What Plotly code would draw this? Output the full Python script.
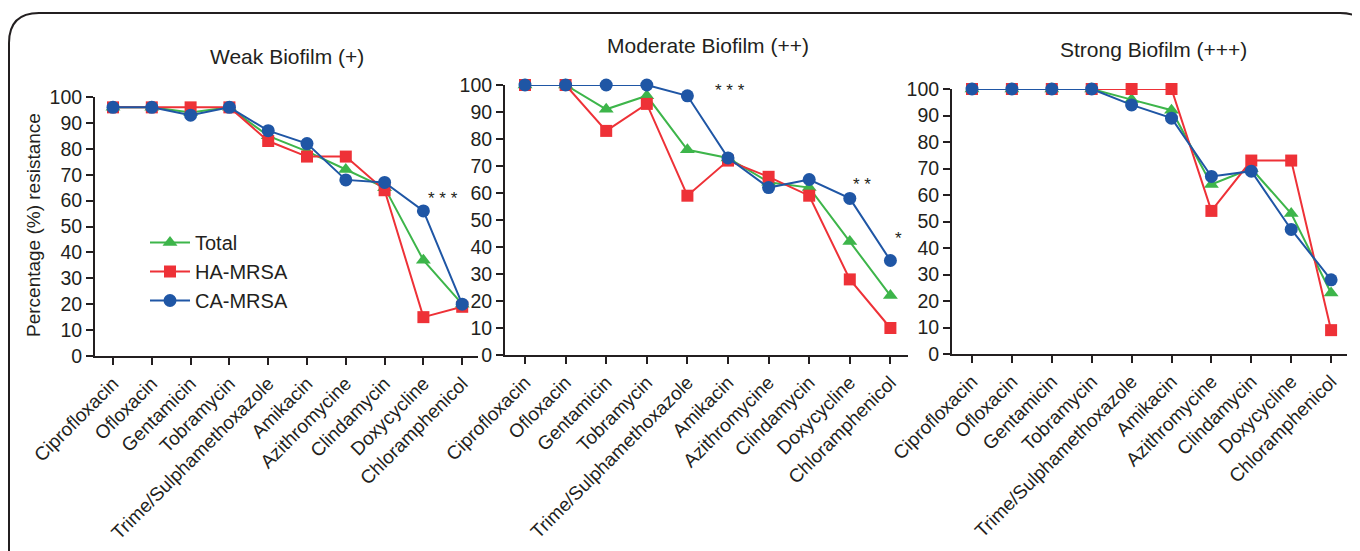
import plotly.graph_objects as go

# page body has an 8px margin; the figure fills the rest of the 1360x551 window
OX, OY = 8, 8
W, H = 1360 - OX, 551 - OY

drugs = ["Ciprofloxacin", "Ofloxacin", "Gentamicin", "Tobramycin", "Trime/Sulphamethoxazole",
         "Amikacin", "Azithromycine", "Clindamycin", "Doxycycline", "Chloramphenicol"]

weak_total = [96, 96, 94, 96, 85, 79, 72, 65, 37, 20]
weak_ha = [96, 96, 96, 96, 83, 77, 77, 64, 15, 19]
weak_ca = [96, 96, 93, 96, 87, 82, 68, 67, 56, 20]

mod_total = [100, 100, 91, 96, 76, 73, 64, 62, 42, 22]
mod_ha = [100, 100, 83, 93, 59, 72, 66, 59, 28, 10]
mod_ca = [100, 100, 100, 100, 96, 73, 62, 65, 58, 35]

strong_total = [100, 100, 100, 100, 96, 92, 64, 70, 53, 23]
strong_ha = [100, 100, 100, 100, 100, 100, 54, 73, 73, 9]
strong_ca = [100, 100, 100, 100, 94, 89, 67, 69, 47, 28]

panel_titles = ["Weak Biofilm (+)", "Moderate Biofilm (++)", "Strong Biofilm (+++)"]
series_names = ["Total", "HA-MRSA", "CA-MRSA"]
y_ticks = list(range(0, 101, 10))

# significance marks: (panel, x position in category units, y value, text)
sig_marks = [(0, 8.5, 61, "* * *"),
             (1, 1.75, 105, "*"), (1, 5.05, 98, "* * *"),
             (1, 8.3, 63, "* *"), (1, 9.2, 43, "*")]

GREEN, RED, BLUE = "#3DB54A", "#EE3137", "#1F56A5"
FONT = "Arial, Liberation Sans, sans-serif"
INK = "#231F20"

panels = [(weak_total, weak_ha, weak_ca), (mod_total, mod_ha, mod_ca), (strong_total, strong_ha, strong_ca)]

# pixel layout (window coords) of each panel: x0, x1, y_top, y_bottom, first category px, category spacing
px = [(95, 478, 97, 356, 113, 38.8),
      (505, 908, 85, 355, 525, 40.6),
      (952, 1347, 89, 354, 972, 39.9)]


def fx(v):
    return (v - OX) / W


def fy(v):
    return 1 - (v - OY) / H


fig = go.Figure()
styles = [(GREEN, "triangle-up", 13), (RED, "square", 12), (BLUE, "circle", 13)]
for p, data in enumerate(panels):
    xa = "x" if p == 0 else f"x{p+1}"
    ya = "y" if p == 0 else f"y{p+1}"
    for s, (vals, name) in enumerate(zip(data, series_names)):
        col, sym, sz = styles[s]
        fig.add_trace(go.Scatter(
            x=list(range(len(drugs))), y=vals, mode="lines+markers", name=name,
            line=dict(color=col, width=2), marker=dict(color=col, symbol=sym, size=sz),
            xaxis=xa, yaxis=ya, showlegend=(p == 0), cliponaxis=False))

layout = dict(width=W, height=H, margin=dict(l=0, r=0, t=0, b=0, autoexpand=False),
              paper_bgcolor="white", plot_bgcolor="white",
              font=dict(family=FONT, color=INK),
              legend=dict(x=fx(145), y=fy(223), xanchor="left", yanchor="top", itemwidth=40,
                          font=dict(size=20, family=FONT, color=INK),
                          bgcolor="rgba(0,0,0,0)", tracegroupgap=0))

for p, (x0, x1, yt, yb, c0, sp) in enumerate(px):
    kx = "xaxis" if p == 0 else f"xaxis{p+1}"
    ky = "yaxis" if p == 0 else f"yaxis{p+1}"
    ya = "y" if p == 0 else f"y{p+1}"
    xa = "x" if p == 0 else f"x{p+1}"
    layout[kx] = dict(domain=[fx(x0), fx(x1)], anchor=ya, automargin=False,
                      range=[(x0 - c0) / sp, (x1 - c0) / sp],
                      tickmode="array", tickvals=list(range(len(drugs))), ticktext=drugs,
                      tickangle=-45, ticks="outside", ticklen=7, tickwidth=2, tickcolor=INK,
                      showline=True, linecolor=INK, linewidth=2, showgrid=False, zeroline=False,
                      tickfont=dict(size=19, family=FONT, color=INK))
    layout[ky] = dict(domain=[fy(yb), fy(yt)], anchor=xa, range=[0, 100], automargin=False,
                      tickmode="array", tickvals=y_ticks,
                      ticks="outside", ticklen=7, tickwidth=2, tickcolor=INK,
                      showline=True, linecolor=INK, linewidth=2, showgrid=False, zeroline=False,
                      tickfont=dict(size=19.5, family=FONT, color=INK))

fig.update_layout(**layout)

title_pos = [(287, 57), (708, 45), (1153, 49)]
for t, (cx, cy) in zip(panel_titles, title_pos):
    fig.add_annotation(text=t, x=fx(cx), y=fy(cy), xref="paper", yref="paper",
                       xanchor="center", yanchor="middle",
                       showarrow=False, font=dict(size=21, family=FONT, color=INK))

fig.add_annotation(text="Percentage (%) resistance", x=fx(33), y=fy(225), xref="paper", yref="paper",
                   xanchor="center", yanchor="middle",
                   textangle=-90, showarrow=False, font=dict(size=19, family=FONT, color=INK))

for p, xv, yv, t in sig_marks:
    xa = "x" if p == 0 else f"x{p+1}"
    ya = "y" if p == 0 else f"y{p+1}"
    fig.add_annotation(text=t, x=xv, y=yv, xref=xa, yref=ya, showarrow=False,
                       font=dict(size=17, family=FONT, color=INK))

# rounded frame around the figure
frame = (f"M {fx(9)},{fy(560)} L {fx(9)},{fy(43)} Q {fx(9)},{fy(13)} {fx(39)},{fy(13)} "
         f"L {fx(1340)},{fy(13)} Q {fx(1370)},{fy(13)} {fx(1370)},{fy(43)} L {fx(1370)},{fy(560)}")
fig.add_shape(type="path", path=frame, xref="paper", yref="paper",
              line=dict(color=INK, width=2))

fig.write_html("out.html")
